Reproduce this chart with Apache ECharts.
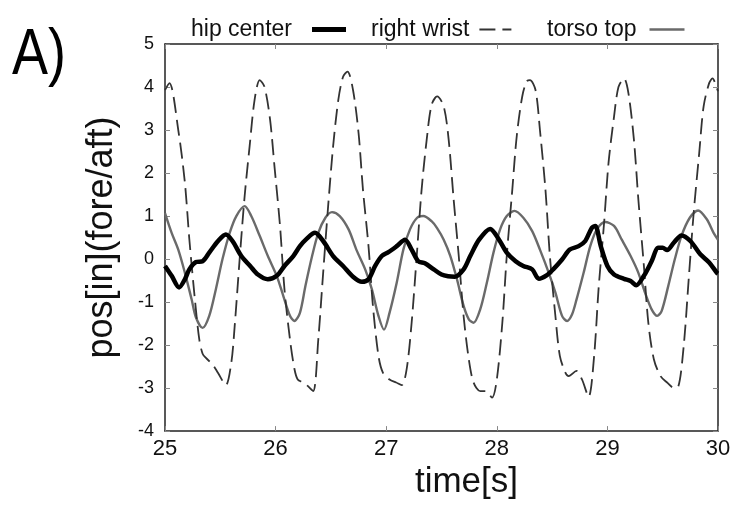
<!DOCTYPE html>
<html>
<head>
<meta charset="utf-8">
<script src="https://cdn.jsdelivr.net/npm/echarts@6/dist/echarts.min.js"></script>
<style>html,body{margin:0;padding:0;background:#fff}#c{width:737px;height:505px}</style>
</head>
<body>
<div id="c"></div>
<script>
var xTicks = [25, 26, 27, 28, 29, 30];
var yTicks = [-4, -3, -2, -1, 0, 1, 2, 3, 4, 5];
var seriesNames = ['hip center', 'right wrist', 'torso top'];

var hipCenter = [
[25.00,-0.16],[25.06,-0.39],[25.127,-0.66],[25.18,-0.47],[25.22,-0.24],[25.28,-0.07],[25.34,-0.05],
[25.40,0.15],[25.48,0.42],[25.55,0.57],[25.61,0.42],[25.69,0.07],[25.77,-0.16],[25.84,-0.36],
[25.93,-0.47],[26.01,-0.39],[26.08,-0.16],[26.16,0.07],[26.22,0.30],[26.28,0.47],[26.356,0.61],
[26.43,0.42],[26.52,0.07],[26.61,-0.16],[26.70,-0.41],[26.78,-0.53],[26.84,-0.47],[26.90,-0.16],
[26.96,0.07],[27.02,0.16],[27.095,0.30],[27.17,0.45],[27.23,0.22],[27.29,-0.05],[27.35,-0.10],
[27.43,-0.24],[27.50,-0.36],[27.56,-0.40],[27.62,-0.41],[27.70,-0.24],[27.76,0.07],[27.84,0.45],
[27.94,0.70],[28.02,0.45],[28.09,0.15],[28.17,-0.05],[28.24,-0.16],[28.32,-0.24],[28.38,-0.46],
[28.45,-0.38],[28.51,-0.24],[28.59,-0.01],[28.66,0.22],[28.74,0.30],[28.80,0.42],[28.86,0.73],
[28.89,0.77],[28.94,0.30],[29.00,-0.16],[29.06,-0.36],[29.15,-0.46],[29.21,-0.51],[29.26,-0.61],
[29.33,-0.39],[29.40,-0.05],[29.46,0.26],[29.50,0.26],[29.54,0.21],[29.60,0.38],[29.67,0.55],
[29.75,0.42],[29.84,0.11],[29.92,-0.08],[29.99,-0.32],[30.00,-0.34]
];

var rightWrist = [
[25.00,3.93],[25.04,4.09],[25.12,3.0],[25.18,1.77],[25.22,0.46],[25.27,-0.93],[25.31,-1.87],
[25.34,-2.2],[25.37,-2.30],[25.43,-2.45],[25.48,-2.65],[25.55,-2.93],[25.60,-2.40],[25.63,-1.56],
[25.675,0.0],[25.72,1.46],[25.765,2.62],[25.81,3.7],[25.856,4.16],[25.90,4.0],[25.95,3.24],
[25.99,2.15],[26.04,0.77],[26.08,-0.7],[26.13,-1.87],[26.17,-2.55],[26.20,-2.8],[26.25,-2.87],
[26.29,-2.95],[26.34,-3.07],[26.386,-1.87],[26.43,-0.32],[26.475,1.23],[26.52,2.62],[26.567,3.7],
[26.61,4.24],[26.65,4.36],[26.70,3.93],[26.75,2.93],[26.79,1.61],[26.84,0.30],[26.88,-1.09],
[26.93,-2.25],[26.97,-2.64],[27.03,-2.80],[27.09,-2.87],[27.14,-2.93],[27.185,-2.56],[27.23,-1.48],
[27.276,0.07],[27.32,1.61],[27.366,2.77],[27.41,3.58],[27.46,3.78],[27.52,3.55],[27.565,2.77],
[27.61,1.38],[27.656,0.07],[27.70,-1.33],[27.747,-2.33],[27.79,-2.87],[27.85,-3.07],[27.90,-3.07],
[27.957,-3.22],[28.00,-2.8],[28.05,-1.48],[28.09,0.07],[28.14,1.61],[28.18,2.85],[28.23,3.78],
[28.27,4.13],[28.30,4.16],[28.35,3.93],[28.39,3.0],[28.44,1.61],[28.48,0.07],[28.53,-1.33],
[28.57,-2.25],[28.62,-2.64],[28.65,-2.72],[28.72,-2.60],[28.77,-2.80],[28.83,-3.2],[28.88,-2.25],
[28.92,-0.7],[28.97,0.84],[29.01,2.23],[29.06,3.31],[29.10,4.0],[29.15,4.2],[29.19,3.86],
[29.24,2.77],[29.28,1.38],[29.33,-0.16],[29.37,-1.48],[29.42,-2.33],[29.48,-2.72],[29.54,-2.87],
[29.60,-2.99],[29.64,-2.97],[29.69,-2.02],[29.735,-0.47],[29.78,1.07],[29.83,2.46],[29.87,3.55],
[29.92,4.09],[29.95,4.2],[29.99,3.97],[30.00,3.9]
];

var torsoTop = [
[25.00,1.07],[25.06,0.61],[25.12,0.22],[25.18,-0.32],[25.24,-0.93],[25.28,-1.36],[25.34,-1.6],
[25.40,-1.32],[25.46,-0.7],[25.52,0.0],[25.585,0.61],[25.645,1.0],[25.72,1.23],[25.78,1.0],
[25.856,0.54],[25.93,0.07],[26.01,-0.39],[26.07,-0.86],[26.13,-1.32],[26.17,-1.44],[26.22,-1.25],
[26.27,-0.62],[26.33,0.07],[26.386,0.61],[26.45,0.96],[26.51,1.09],[26.58,1.0],[26.66,0.69],
[26.73,0.22],[26.81,-0.24],[26.87,-0.7],[26.93,-1.32],[26.98,-1.64],[27.03,-1.25],[27.095,-0.55],
[27.155,0.22],[27.215,0.69],[27.28,0.96],[27.335,1.0],[27.41,0.88],[27.46,0.72],[27.52,0.45],
[27.58,0.07],[27.64,-0.47],[27.70,-1.09],[27.747,-1.4],[27.79,-1.48],[27.85,-1.17],[27.91,-0.55],
[27.97,0.15],[28.03,0.69],[28.09,1.0],[28.16,1.12],[28.24,0.96],[28.32,0.65],[28.39,0.22],
[28.47,-0.32],[28.53,-0.78],[28.59,-1.32],[28.635,-1.44],[28.68,-1.29],[28.72,-0.95],[28.785,-0.32],
[28.845,0.30],[28.905,0.69],[28.98,0.86],[29.06,0.77],[29.13,0.45],[29.21,0.07],[29.28,-0.32],
[29.34,-0.78],[29.40,-1.17],[29.45,-1.32],[29.49,-1.21],[29.55,-0.63],[29.61,0.0],[29.67,0.54],
[29.745,0.96],[29.82,1.13],[29.90,0.92],[29.96,0.61],[30.00,0.45]
];

var FONT = '"Liberation Sans", Arial, Helvetica, sans-serif';
var chart = echarts.init(document.getElementById('c'), null, {renderer: 'canvas'});

function legendAt(name, left, padRight, iconW, lw) {
  return {
    data: [name], left: left, top: 13, align: 'right', orient: 'horizontal',
    itemWidth: iconW, itemHeight: 14, selectedMode: false,
    itemStyle: {opacity: 0},
    lineStyle: {width: lw},
    textStyle: {fontFamily: FONT, fontSize: 23, color: '#111', padding: [0, padRight, 0, 0]}
  };
}

function frameAxis(extra) {
  var base = {
    type: 'value', interval: 1,
    axisLine: {show: true, onZero: false, lineStyle: {color: '#222', width: 1.5}},
    axisTick: {show: true, inside: true, length: 5, lineStyle: {color: '#888'}},
    splitLine: {show: false}
  };
  for (var k in extra) base[k] = extra[k];
  return base;
}

chart.setOption({
  animation: false,
  backgroundColor: '#fff',
  textStyle: {fontFamily: FONT},
  grid: {left: 165, right: 19, top: 44, bottom: 73, containLabel: false},
  legend: [
    legendAt(seriesNames[0], 186, 15, 34, 5),
    legendAt(seriesNames[1], 366, 5, 32, 1.8),
    legendAt(seriesNames[2], 542, 8, 35, 2.4)
  ],
  graphic: [{
    type: 'text', x: 12, y: 24, scaleY: 1.2,
    style: {text: 'A)', fontSize: 54, fontFamily: FONT, fill: '#000', verticalAlign: 'top'}
  }],
  xAxis: [
    frameAxis({
      min: xTicks[0], max: xTicks[xTicks.length - 1], position: 'bottom',
      axisLabel: {fontSize: 22, color: '#111', margin: 7, fontFamily: FONT},
      name: 'time[s]', nameLocation: 'middle', nameGap: 28,
      nameTextStyle: {fontSize: 35, color: '#111', fontFamily: FONT, padding: [0, 0, 0, 50]}
    }),
    frameAxis({
      min: xTicks[0], max: xTicks[xTicks.length - 1], position: 'top',
      axisLabel: {show: false}
    })
  ],
  yAxis: [
    frameAxis({
      min: yTicks[0], max: yTicks[yTicks.length - 1], position: 'left',
      axisLabel: {fontSize: 18, color: '#111', margin: 11, fontFamily: FONT},
      name: 'pos[in](fore/aft)', nameLocation: 'middle', nameGap: 45,
      nameTextStyle: {fontSize: 36, color: '#111', fontFamily: FONT}
    }),
    frameAxis({
      min: yTicks[0], max: yTicks[yTicks.length - 1], position: 'right',
      axisLabel: {show: false}
    })
  ],
  series: [{
    name: seriesNames[0], type: 'line', data: hipCenter, xAxisIndex: 0, yAxisIndex: 0,
    symbol: 'none', smooth: 0.3, z: 4,
    lineStyle: {color: '#000', width: 4.5}, itemStyle: {color: '#000'}
  }, {
    name: seriesNames[1], type: 'line', data: rightWrist, xAxisIndex: 0, yAxisIndex: 0,
    symbol: 'none', smooth: 0.3, z: 3,
    lineStyle: {color: '#333', width: 1.8, type: [16, 7]}, itemStyle: {color: '#333'}
  }, {
    name: seriesNames[2], type: 'line', data: torsoTop, xAxisIndex: 0, yAxisIndex: 0,
    symbol: 'none', smooth: 0.3, z: 2,
    lineStyle: {color: '#6a6a6a', width: 2.4}, itemStyle: {color: '#6a6a6a'}
  }]
});
</script>
</body>
</html>
